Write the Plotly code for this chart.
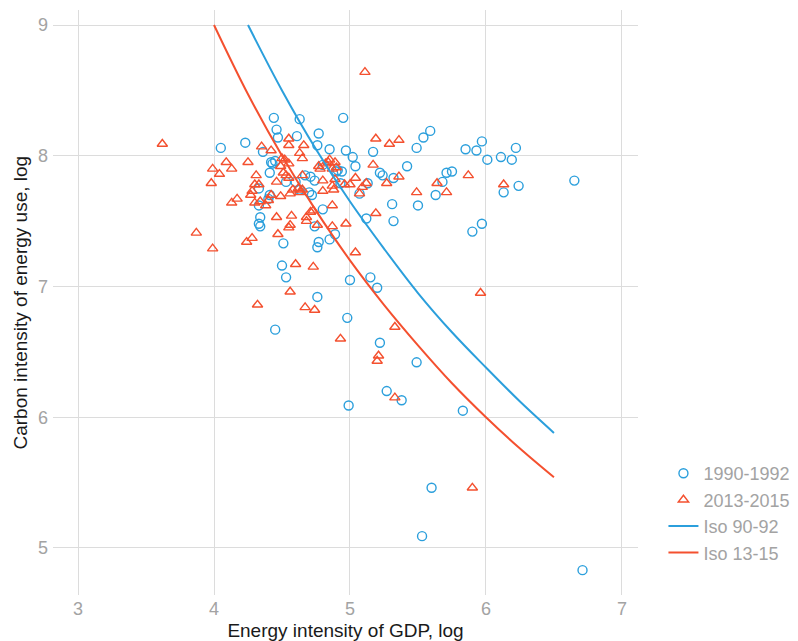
import plotly.graph_objects as go

# ---- data ----
x_1990 = [4.05, 4.23, 4.44, 4.46, 4.47, 4.63, 4.95, 4.77, 4.61, 4.76, 4.85, 4.36, 4.42, 4.41,
          4.53, 4.60, 4.67, 4.71, 4.74, 4.63, 4.72, 4.80, 4.91, 4.93, 4.94, 4.33, 4.80, 4.34,
          4.33, 4.34, 4.74, 4.97, 5.02, 5.04, 5.17, 5.13, 5.22, 5.24, 5.32, 5.42, 5.31, 5.32,
          5.12, 5.07, 5.49, 5.54, 5.59, 5.50, 5.63, 5.68, 5.71, 5.75, 5.85, 5.93, 5.97, 6.01,
          5.90, 5.97, 6.11, 6.19, 6.22, 6.13, 6.24, 6.65, 4.89, 4.85, 4.77, 4.76, 4.51, 4.50,
          4.53, 4.76, 5.00, 5.15, 5.20, 4.98, 4.45, 5.22, 5.27, 4.99, 5.38, 5.49, 5.83, 5.60,
          5.53, 6.71, 4.70, 4.90, 4.41, 4.40, 4.33, 4.45, 4.43]
y_1990 = [8.06, 8.10, 8.29, 8.20, 8.14, 8.28, 8.29, 8.17, 8.15, 8.08, 8.05, 8.03, 7.95, 7.87,
          7.80, 7.80, 7.85, 7.84, 7.81, 7.74, 7.70, 7.93, 7.89, 7.79, 7.88, 7.75, 7.59, 7.53,
          7.48, 7.46, 7.46, 8.04, 7.99, 7.92, 8.03, 7.79, 7.87, 7.85, 7.83, 7.92, 7.63, 7.50,
          7.52, 7.71, 8.06, 8.14, 8.19, 7.62, 7.70, 7.80, 7.87, 7.88, 8.05, 8.04, 8.11, 7.97,
          7.42, 7.48, 7.99, 7.97, 8.06, 7.72, 7.77, 7.81, 7.40, 7.36, 7.34, 7.30, 7.33, 7.16,
          7.07, 6.92, 7.05, 7.07, 6.99, 6.76, 6.67, 6.57, 6.20, 6.09, 6.13, 6.42, 6.05, 5.46,
          5.09, 4.83, 7.72, 7.88, 7.70, 7.67, 7.62, 7.96, 7.94]

x_2013 = [3.62, 3.99, 4.09, 4.13, 4.04, 3.98, 4.25, 4.31, 4.17, 4.13, 4.27, 4.28, 4.30, 4.34,
          4.38, 4.40, 4.30, 4.42, 4.49, 4.46, 4.57, 4.68, 4.87, 4.35, 4.42, 4.55, 4.55, 4.66,
          4.52, 4.50, 4.63, 4.65, 4.49, 4.51, 4.55, 4.46, 4.58, 4.62, 4.78, 4.84, 4.89, 4.87,
          4.90, 4.80, 4.80, 4.87, 4.88, 4.96, 4.73, 5.11, 5.19, 5.29, 5.36, 5.17, 5.04, 5.00,
          5.09, 5.07, 5.27, 5.36, 5.49, 5.64, 5.71, 5.87, 6.13, 5.19, 4.97, 4.87, 3.87, 3.99,
          4.24, 4.28, 4.47, 4.55, 4.56, 4.68, 4.76, 4.60, 4.73, 5.04, 4.56, 4.32, 4.67, 4.74,
          4.93, 5.33, 5.21, 5.20, 5.33, 5.96, 5.90, 4.56, 4.63, 4.65, 4.71, 4.77, 4.82, 4.85,
          4.89, 5.12, 4.65, 4.55, 4.53, 4.33]
y_2013 = [8.09, 7.90, 7.95, 7.90, 7.86, 7.79, 7.95, 7.85, 7.67, 7.64, 7.70, 7.73, 7.78, 7.65,
          7.62, 7.66, 7.64, 7.70, 7.69, 7.53, 7.54, 7.53, 7.62, 8.07, 8.04, 8.13, 8.08, 8.08,
          7.97, 7.98, 8.02, 7.98, 7.92, 7.87, 7.83, 7.80, 7.74, 7.75, 7.90, 7.95, 7.95, 7.90,
          7.91, 7.81, 7.73, 7.77, 7.74, 7.78, 7.58, 8.64, 8.13, 8.09, 8.12, 7.93, 7.83, 7.78,
          7.76, 7.71, 7.79, 7.84, 7.72, 7.79, 7.72, 7.85, 7.78, 7.56, 7.48, 7.46, 7.41, 7.29,
          7.34, 7.37, 7.40, 7.45, 7.47, 7.50, 7.47, 7.17, 7.15, 7.26, 6.96, 6.86, 6.84, 6.82,
          6.60, 6.69, 6.47, 6.43, 6.15, 6.95, 5.46, 7.71, 7.72, 7.74, 7.57, 7.92, 7.94, 7.97,
          7.82, 7.79, 7.85, 7.94, 7.85, 7.78]

iso_9092_x = [4.25, 4.5, 4.75, 5.0, 5.25, 5.5, 5.75, 6.0, 6.25, 6.5]
iso_9092_y = [9.00, 8.50, 8.05, 7.65, 7.29, 6.95, 6.65, 6.38, 6.12, 5.88]
iso_1315_x = [4.0, 4.25, 4.5, 4.75, 5.0, 5.25, 5.5, 5.75, 6.0, 6.25, 6.5]
iso_1315_y = [9.00, 8.47, 8.00, 7.58, 7.20, 6.86, 6.55, 6.26, 6.00, 5.76, 5.54]

x_ticks = [3, 4, 5, 6, 7]
y_ticks = [5, 6, 7, 8, 9]

BLUE = "#2b9fdc"
RED = "#f4502f"
FONT = "Liberation Sans, Arial, sans-serif"

fig = go.Figure()
fig.add_trace(go.Scatter(x=x_1990, y=y_1990, mode="markers", name="1990-1992",
                         marker=dict(symbol="circle-open", size=9, color=BLUE,
                                     line=dict(width=1.4, color=BLUE))))
fig.add_trace(go.Scatter(x=x_2013, y=y_2013, mode="markers", name="2013-2015",
                         marker=dict(symbol="triangle-up-open", size=9, color=RED,
                                     line=dict(width=1.4, color=RED))))
fig.add_trace(go.Scatter(x=iso_9092_x, y=iso_9092_y, mode="lines", name="Iso 90-92",
                         line=dict(color=BLUE, width=2, shape="spline")))
fig.add_trace(go.Scatter(x=iso_1315_x, y=iso_1315_y, mode="lines", name="Iso 13-15",
                         line=dict(color=RED, width=2, shape="spline")))

axis_common = dict(showgrid=True, gridcolor="#dcdcdc", gridwidth=1.3, zeroline=False,
                   showline=False, ticks="", automargin=False,
                   tickfont=dict(size=18, color="#a3a3a3", family=FONT))

fig.update_layout(
    width=798, height=641,
    margin=dict(l=53, r=160, t=10, b=46, autoexpand=False),
    paper_bgcolor="white", plot_bgcolor="white",
    font=dict(family=FONT),
    xaxis=dict(range=[2.816, 7.118], tickvals=x_ticks, ticklabelstandoff=1,
               title=dict(text="Energy intensity of GDP, log",
                          font=dict(size=19, color="#1a1a1a", family=FONT)),
               **axis_common),
    yaxis=dict(range=[4.64, 9.115], tickvals=y_ticks, ticklabelstandoff=4,
               **axis_common),
    legend=dict(x=1.0435, xanchor="left", y=0.14, yanchor="middle",
                font=dict(size=18, color="#a3a3a3", family=FONT),
                bgcolor="rgba(0,0,0,0)"),
    showlegend=True,
)
fig.add_annotation(text="Carbon intensity of energy use, log", textangle=-90,
                   xref="paper", yref="paper", x=-0.0564, y=0.5,
                   xanchor="center", yanchor="middle", showarrow=False,
                   font=dict(size=19, color="#1a1a1a", family=FONT))

fig.write_html("out.html", config={"displayModeBar": False},
               post_script="document.body.style.margin='0';document.body.style.overflow='hidden';")
